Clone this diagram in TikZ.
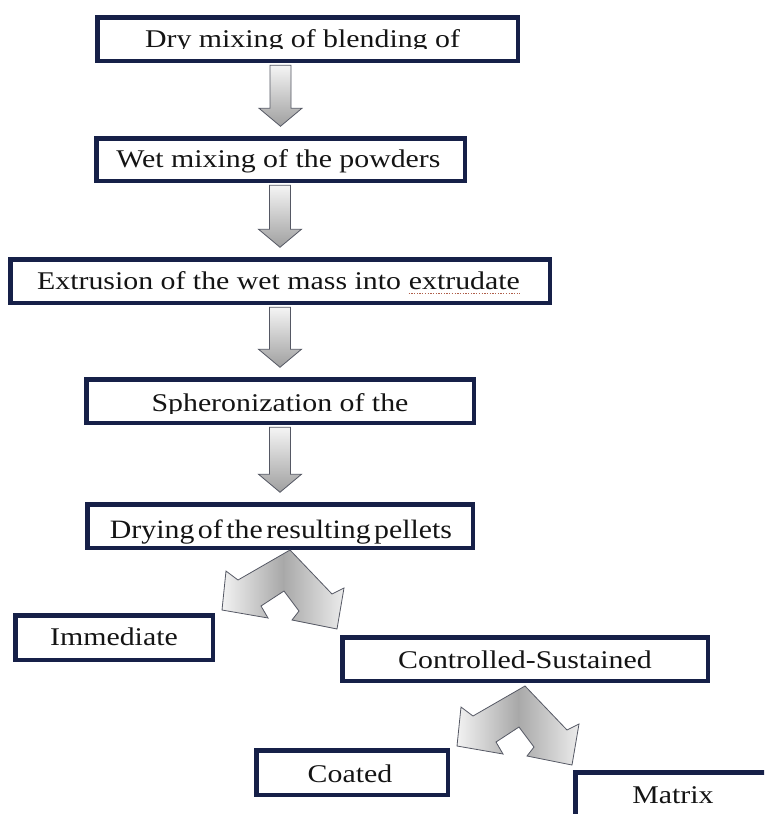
\documentclass[tikz,border=0pt]{standalone}
\usepackage{fontspec}
\setmainfont[FakeStretch=1.17]{Liberation Serif}
\usetikzlibrary{calc}
\definecolor{navy}{RGB}{22,32,72}
\definecolor{ink}{RGB}{20,20,20}
\definecolor{arrowedge}{RGB}{85,88,100}
\definecolor{spellred}{RGB}{175,95,75}
\newcommand\boxfont{\fontsize{25.5}{30}\selectfont}
\newcommand\vflow[2]{%
  \path[flowarrow] let \p1=($(#2.north |- #1.south)+(0pt,-2.25pt)$),
                       \p2=($(#2.north)+(0pt,9.75pt)$) in
    (\x1-10.5pt,\y1) -- (\x1-10.5pt,\y2+18pt) -- (\x1-21.5pt,\y2+18pt) -- (\x1,\y2)
    -- (\x1+21.5pt,\y2+18pt) -- (\x1+10.5pt,\y2+18pt) -- (\x1+10.5pt,\y1) -- cycle;}
\newcommand\bentflow[2]{%
  \path[bentarrow, shift={($(#1.south)+(#2)$)}]
    (0,0) -- (-52,30) -- (-64,21) -- (-68,60) -- (-22,68) -- (-29,56) -- (-6,41)
    -- (9,61) -- (2,70) -- (47,79) -- (54,38) -- (42,44) -- cycle;}
\begin{document}
\begin{tikzpicture}[x=1pt,y=-1pt,
  flowbox/.style={draw=navy, line width=4.5pt, fill=white, inner sep=0pt},
  boxtext/.style={font=\boxfont, text=ink, inner sep=0pt, anchor=base},
  flowarrow/.style={draw=arrowedge, line width=0.8pt, line join=miter,
                    top color=gray!8, bottom color=gray!75},
  bentarrow/.style={draw=arrowedge, line width=0.8pt, line join=miter,
                    left color=gray!10, right color=gray!15, middle color=gray!68},
  spellmark/.style={draw=spellred, line width=1.3pt, dash pattern=on 1.3pt off 1.4pt}]
\useasboundingbox (0,0) rectangle (764,814);
\fill[white] (0,0) rectangle (764,814);
\clip (0,0) rectangle (764,814);

% boxes
\node[flowbox, minimum width=420.5pt, minimum height=43.5pt] (b1) at (307.5,39) {};
\node[flowbox, minimum width=368.5pt, minimum height=42.5pt] (b2) at (280.5,159.5) {};
\node[flowbox, minimum width=539.5pt, minimum height=43.5pt] (b3) at (280,281) {};
\node[flowbox, minimum width=387.5pt, minimum height=43.5pt] (b4) at (280,401) {};
\node[flowbox, minimum width=385.5pt, minimum height=43.5pt] (b5) at (280,526) {};
\node[flowbox, minimum width=197.5pt, minimum height=44.5pt] (imm) at (114,637.5) {};
\node[flowbox, minimum width=365.5pt, minimum height=43.5pt] (ctl) at (525,659) {};
\node[flowbox, minimum width=191.5pt, minimum height=44.5pt] (coa) at (352,772.5) {};
\node[flowbox, minimum width=195.5pt, minimum height=44.5pt] (mat) at (673,794.5) {};

% texts
\begin{scope}
  \clip (97.5,17.5) rectangle (517.5,48.8);
  \node[boxtext] (t1) at (302.5,47.5) {Dry mixing of blending of};
\end{scope}
\node[boxtext] (t2) at (278.5,167.5) {Wet mixing of the powders};
\node[boxtext, anchor=base west] (t3a) at (37,289.5) {Extrusion of the wet mass into};
\node[boxtext, anchor=base west] (t3b) at ($(t3a.base east)+(7.5pt,0pt)$) {extrudate};
\begin{scope}
  \clip (86.5,379.5) rectangle (473.5,413);
  \node[boxtext] (t4) at (280,411.5) {Spheronization of the};
\end{scope}
\node[boxtext] (t5) at (281,538.5) {\scalebox{1}[1.04]{\spaceskip=3.5pt\relax Drying of the resulting pellets}};
\node[boxtext] (t6) at (114,645.5) {Immediate};
\node[boxtext] (t7) at (525,668.5) {Controlled-Sustained};
\node[boxtext] (t8) at (350,782.5) {Coated};
\node[boxtext] (t9) at (673,803.5) {Matrix};

% spell-check underline under "extrudate"
\path[spellmark] ($(t3b.base west)+(0pt,-4pt)$) -- ($(t3b.base east)+(0pt,-4pt)$);

% straight flow arrows
\vflow{b1}{b2}
\vflow{b2}{b3}
\vflow{b3}{b4}
\vflow{b4}{b5}

% split arrows
\bentflow{b5}{10,0}
\bentflow{ctl}{0,3}
\end{tikzpicture}
\end{document}
